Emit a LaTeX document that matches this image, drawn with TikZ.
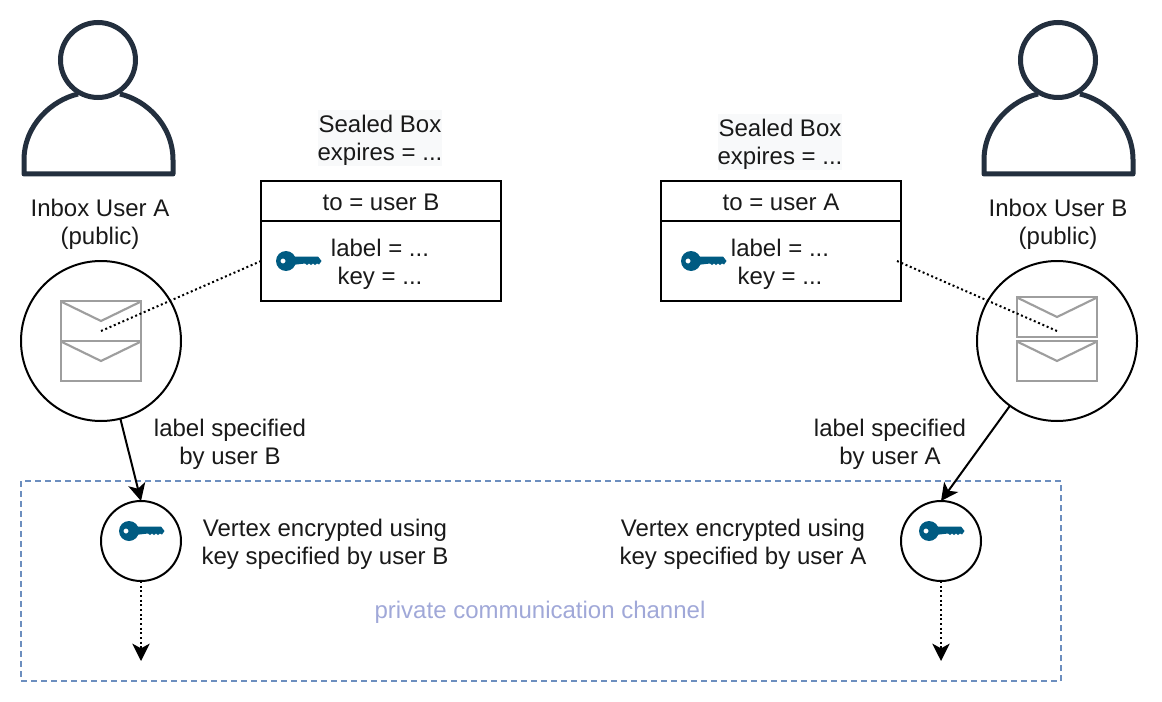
\documentclass[tikz,border=0pt]{standalone}
\usepackage{fontspec}
\setmainfont{Liberation Sans}
\usetikzlibrary{arrows.meta}
\definecolor{usercol}{HTML}{232F3E}
\definecolor{keycol}{HTML}{005B82}
\definecolor{envcol}{HTML}{9E9E9E}
\definecolor{chancol}{HTML}{6C8EBF}
\definecolor{chantext}{HTML}{A0A8D8}
\definecolor{sealedbg}{HTML}{F8F9FA}
\tikzset{
    txt/.style={font=\fontsize{18}{21}\selectfont,align=center,inner sep=0pt,text=black!90},
    inbox/.style={draw,circle,line width=1.5pt,minimum size=120pt,inner sep=0pt,outer sep=0pt},
    keynode/.style={draw,circle,line width=1.5pt,minimum size=60pt,inner sep=0pt,outer sep=0pt},
    boxhead/.style={txt,draw,line width=1.5pt,minimum width=180pt,minimum height=30pt,outer sep=0pt,text height=14pt,text depth=0pt},
    boxbody/.style={draw,line width=1.5pt,minimum width=180pt,minimum height=60pt,outer sep=0pt},
    sealed/.style={fill=sealedbg,minimum width=93pt,minimum height=42pt,inner sep=0pt},
    link/.style={line width=1.5pt,-{Stealth[length=13pt,width=13pt,inset=3.5pt]}},
    dotlink/.style={line width=1.5pt,dotted,-{Stealth[length=13pt,width=13pt,inset=3.5pt]}},
    person/.pic={
        \draw[usercol,line width=3.75pt,line join=round]
            (-20,-26) .. controls (-46,-20) and (-74,5) .. (-74,40) -- (-74,54)
            -- (75,54) -- (75,40) .. controls (75,5) and (48,-20) .. (22,-26);
        \draw[usercol,line width=3.75pt] (0,-60) circle (37.5);
    },
    envelope/.pic={
        \draw[envcol,line width=1.6pt] (-40,-20) rectangle (40,20);
        \draw[envcol,line width=1.6pt] (-39,-19) -- (0,0) -- (39,-19);
    },
    key/.pic={
        \fill[keycol,even odd rule] (0,0) circle (10) (-3,0) circle (2.6);
        \fill[keycol] (6,-4.5) -- (32,-4.5) -- (35.5,0) -- (33,3.5) -- (31,2.5) -- (29,4)
            -- (27,2.5) -- (25,4) -- (23,2.5) -- (21,4) -- (19,2.5) -- (6,4) -- cycle;
    },
}
\begin{document}
\begin{tikzpicture}[x=0.75pt,y=-0.75pt]
    \useasboundingbox (0,0) rectangle (1162,702);
    % channel
    \node[draw=chancol,line width=1.1pt,dash pattern=on 4.5pt off 3pt,minimum width=780pt,minimum height=150pt,inner sep=0pt] (channel) at (541,581) {};
    \node[txt,text=chantext] (chanlabel) at (540,612) {private communication channel};
    % users
    \pic at (98,120) {person};
    \pic at (1058,120) {person};
    \node[txt] (labela) at (100,224) {Inbox User A\\(public)};
    \node[txt] (labelb) at (1058,224) {Inbox User B\\(public)};
    % inboxes
    \node[inbox] (inboxa) at (101,341) {};
    \node[inbox] (inboxb) at (1057,341) {};
    \pic at (101,321) {envelope};
    \pic at (101,361) {envelope};
    \pic at (1057,317) {envelope};
    \pic at (1057,361) {envelope};
    % sealed boxes
    \node[sealed] (sealbga) at (380,138) {};
    \node[sealed] (sealbgb) at (780,142) {};
    \node[txt] (sealeda) at (380,140) {Sealed Box\\expires = ...};
    \node[txt] (sealedb) at (780,144) {Sealed Box\\expires = ...};
    \node[boxhead] (heada) at (381,201) {to = user B};
    \node[boxbody] (bodya) at (381,261) {};
    \node[txt] (fieldsa) at (380,264) {label = ...\\key = ...};
    \node[boxhead] (headb) at (781,201) {to = user A};
    \node[boxbody] (bodyb) at (781,261) {};
    \node[txt] (fieldsb) at (780,264) {label = ...\\key = ...};
    \pic at (286,261) {key};
    \pic at (691,261) {key};
    % dotted links to the boxes
    \coordinate (enva) at (101,331);
    \coordinate (envb) at (1057,331);
    \coordinate (boxb) at (897,261);
    \draw[line width=1.5pt,dotted] (enva) -- (bodya.west);
    \draw[line width=1.5pt,dotted] (envb) -- (boxb);
    % encrypted vertices
    \node[keynode] (vertexa) at (141,541) {};
    \node[keynode] (vertexb) at (941,541) {};
    \pic at (129,531) {key};
    \pic at (929,531) {key};
    \node[txt] (texta) at (325,544) {Vertex encrypted using\\key specified by user B};
    \node[txt] (textb) at (743,544) {Vertex encrypted using\\key specified by user A};
    \node[txt] (speca) at (230,444) {label specified\\by user B};
    \node[txt] (specb) at (890,444) {label specified\\by user A};
    \draw[link] (inboxa.-76) -- (vertexa.north);
    \draw[link] (inboxb.-126) -- (vertexb.north);
    \coordinate (enda) at (141,661);
    \coordinate (endb) at (941,661);
    \draw[dotlink] (vertexa.south) -- (enda);
    \draw[dotlink] (vertexb.south) -- (endb);
\end{tikzpicture}
\end{document}
